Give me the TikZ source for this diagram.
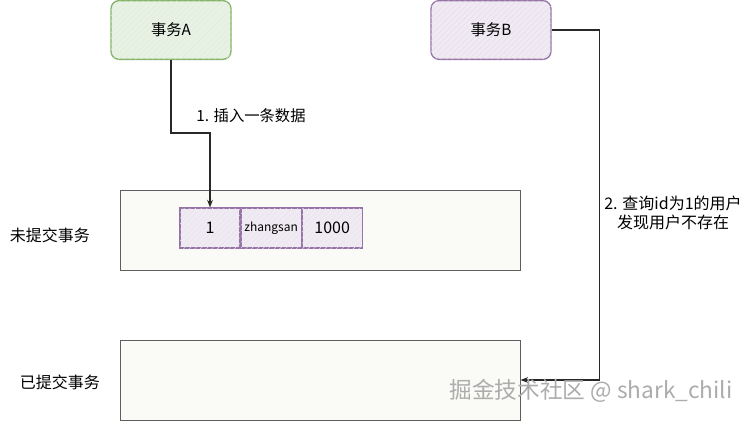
\documentclass[tikz,border=0pt]{standalone}
\usepackage{fontspec}
\setmainfont{Noto Sans CJK SC}
\usepackage{tikz}
\usetikzlibrary{arrows.meta,positioning,patterns.meta}
\definecolor{ink}{RGB}{40,40,40}
\definecolor{soft}{RGB}{250,250,247}
\definecolor{txgreen}{RGB}{130,179,102}
\definecolor{txgreenfill}{RGB}{232,242,228}
\definecolor{txpurple}{RGB}{150,115,166}
\definecolor{txpurplefill}{RGB}{240,234,243}
\tikzset{
  txbox/.style={draw=#1,rounded corners=6pt,line width=1pt,minimum width=90pt,
    minimum height=44pt,font=\fontsize{11.5}{14}\selectfont,
    postaction={pattern={Lines[angle=45,distance=3pt,line width=0.3pt]},pattern color=#1!25}},
  pool/.style={draw=ink!75,fill=soft,line width=0.7pt,minimum width=300pt,minimum height=60pt},
  cell/.style={draw=txpurple,fill=txpurplefill,line width=0.8pt,minimum width=45pt,
    minimum height=30pt,inner sep=1pt,font=\fontsize{12}{14}\selectfont,
    postaction={pattern={Lines[angle=45,distance=3pt,line width=0.3pt]},pattern color=txpurple!20}},
  arr/.style={-{Stealth[length=2mm,open]},line width=1pt,ink},
  lbl/.style={font=\fontsize{11.5}{14}\selectfont,align=center},
}
\begin{document}
\begin{tikzpicture}[x=0.75pt,y=-0.75pt,node distance=0pt]
\useasboundingbox (0,0) rectangle (751,421);
% transactions
\node[txbox=txgreen,fill=txgreenfill] (txA) at (171,30) {事务A};
\node[txbox=txpurple,fill=txpurplefill] (txB) at (491,30) {事务B};
% uncommitted / committed areas
\node[pool] (uncommit) at (320,230) {};
\node[pool] (commit) at (320,380) {};
\node[lbl,font=\fontsize{12}{14}\selectfont] (uncommitLbl) at (50,235) {未提交事务};
\node[lbl,font=\fontsize{12}{14}\selectfont] (commitLbl) at (60,382) {已提交事务};
% row being inserted
\node[cell] (c1) at (210,228) {1};
\node[cell,right=of c1,font=\fontsize{9}{11}\selectfont] (c2) {zhangsan};
\node[cell,right=of c2] (c3) {1000};
% steps
\draw[arr] (txA.south) -- ++(0,73) -| (c1.north);
\node[lbl] (step1) at (251,116) {1. 插入一条数据};
\draw[arr] (txB.east) -- ++(48,0) |- (commit.east);
\node[lbl,font=\fontsize{12}{14.5}\selectfont] (step2) at (673,213) {2. 查询id为1的用户\\发现用户不存在};
% watermark
\node[font=\fontsize{17}{20}\selectfont,text=gray!65] (mark) at (591,391) {掘金技术社区 @ shark\_chili};
\end{tikzpicture}
\end{document}
